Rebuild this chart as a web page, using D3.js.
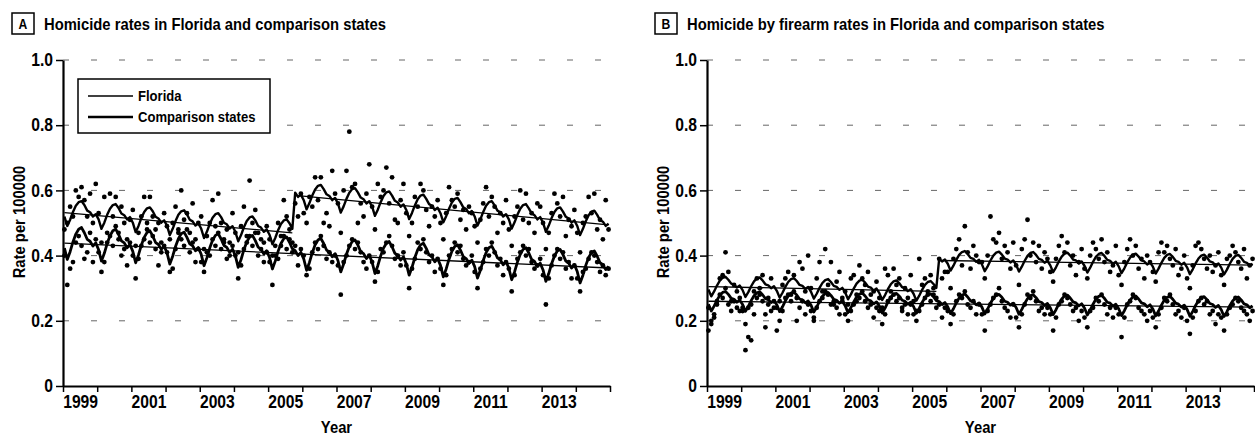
<!DOCTYPE html>
<html>
<head>
<meta charset="utf-8">
<script src="https://cdn.jsdelivr.net/npm/d3@7"></script>
<style>
  body { margin: 0; background: #fff; }
  svg text { font-family: "Liberation Sans", Arial, sans-serif; font-weight: bold; fill: #000; }
</style>
</head>
<body>
<svg id="chart" width="1255" height="436"></svg>
<script>
// ---- data (monthly, Jan..Dec, one row per year) ----
const years = d3.range(1999, 2015);
const tickYears = d3.range(1999, 2016);
const labelYears = [1999, 2001, 2003, 2005, 2007, 2009, 2011, 2013];
const yTicks = [0, 0.2, 0.4, 0.6, 0.8, 1.0];
const seriesNames = ["Florida", "Comparison states"];
const titleA = "Homicide rates in Florida and comparison states";
const titleB = "Homicide by firearm rates in Florida and comparison states";

// A: homicide, Florida observed
const flPointsA = [
  [.48,.50,.55,.52,.60,.58,.61,.57,.52,.59,.50,.62],
  [.53,.44,.58,.47,.59,.52,.58,.47,.55,.50,.45,.51],
  [.54,.43,.47,.52,.58,.50,.58,.52,.48,.50,.44,.53],
  [.49,.45,.50,.55,.48,.60,.51,.53,.47,.56,.45,.50],
  [.52,.42,.46,.50,.57,.49,.59,.50,.45,.48,.44,.53],
  [.47,.41,.49,.55,.46,.63,.50,.54,.47,.45,.44,.49],
  [.45,.40,.43,.50,.46,.57,.52,.48,.44,.56,.52,.59],
  [.53,.50,.58,.55,.64,.57,.64,.50,.53,.49,.66,.59],
  [.56,.47,.60,.66,.78,.61,.62,.50,.56,.52,.59,.68],
  [.55,.48,.62,.58,.60,.67,.56,.64,.51,.50,.57,.62],
  [.53,.46,.50,.58,.55,.62,.60,.54,.49,.55,.52,.57],
  [.50,.45,.53,.61,.57,.55,.59,.51,.54,.48,.55,.53],
  [.49,.44,.51,.56,.61,.52,.58,.55,.47,.53,.50,.57],
  [.48,.43,.52,.55,.60,.51,.59,.50,.53,.47,.56,.55],
  [.50,.42,.47,.53,.59,.56,.52,.58,.46,.51,.49,.54],
  [.47,.41,.50,.52,.58,.53,.59,.48,.51,.45,.57,.48]
];
// A: homicide, comparison states observed
const cmpPointsA = [
  [.40,.31,.36,.38,.44,.46,.43,.39,.41,.47,.38,.45],
  [.41,.35,.38,.44,.46,.43,.49,.45,.40,.42,.37,.44],
  [.40,.33,.39,.43,.45,.48,.44,.46,.42,.37,.41,.43],
  [.41,.35,.36,.42,.47,.45,.43,.48,.41,.44,.38,.42],
  [.38,.35,.41,.40,.45,.43,.47,.42,.44,.39,.40,.43],
  [.40,.33,.37,.42,.44,.46,.43,.47,.40,.42,.38,.41],
  [.38,.31,.40,.39,.43,.46,.42,.45,.41,.43,.37,.42],
  [.40,.34,.36,.41,.44,.42,.46,.43,.39,.41,.38,.40],
  [.37,.28,.38,.40,.43,.45,.42,.44,.41,.38,.36,.40],
  [.38,.32,.35,.42,.41,.44,.46,.43,.39,.40,.37,.41],
  [.37,.30,.36,.39,.44,.42,.45,.41,.38,.40,.35,.39],
  [.36,.31,.34,.40,.42,.44,.41,.43,.39,.37,.38,.40],
  [.35,.30,.36,.38,.42,.40,.44,.41,.37,.39,.34,.38],
  [.36,.29,.34,.39,.41,.43,.40,.42,.38,.36,.37,.39],
  [.34,.25,.33,.37,.40,.42,.39,.41,.36,.38,.33,.37],
  [.33,.29,.35,.36,.39,.41,.40,.38,.35,.37,.34,.36]
];
// A: seasonal model fit
const flFitA = [
  [.520,.491,.510,.534,.553,.564,.567,.555,.538,.533,.520,.527],
  [.511,.482,.501,.525,.544,.555,.558,.546,.529,.524,.511,.518],
  [.501,.472,.491,.515,.534,.545,.548,.536,.519,.514,.501,.508],
  [.492,.463,.482,.506,.525,.536,.539,.527,.510,.505,.492,.499],
  [.483,.454,.473,.497,.516,.527,.530,.518,.501,.496,.483,.490],
  [.473,.444,.463,.487,.506,.517,.520,.508,.491,.486,.473,.480],
  [.464,.435,.454,.478,.497,.508,.511,.499,.482,.593,.580,.587],
  [.570,.542,.561,.584,.603,.614,.617,.604,.588,.583,.570,.577],
  [.560,.532,.551,.574,.593,.604,.607,.594,.578,.573,.560,.567],
  [.550,.522,.541,.564,.583,.594,.597,.584,.568,.563,.550,.557],
  [.540,.512,.531,.554,.573,.584,.587,.574,.558,.553,.540,.547],
  [.530,.502,.521,.544,.563,.574,.577,.564,.548,.543,.530,.537],
  [.520,.492,.511,.534,.553,.564,.567,.554,.538,.533,.520,.527],
  [.511,.483,.502,.525,.544,.555,.558,.545,.529,.524,.511,.518],
  [.501,.473,.492,.515,.534,.545,.548,.535,.519,.514,.501,.508],
  [.491,.463,.482,.505,.524,.535,.538,.525,.509,.504,.491,.498]
];
const cmpFitA = [
  [.423,.388,.412,.442,.466,.481,.486,.470,.450,.444,.429,.439],
  [.418,.383,.407,.437,.461,.476,.481,.465,.445,.439,.424,.434],
  [.413,.378,.402,.432,.456,.471,.476,.460,.440,.434,.419,.429],
  [.409,.374,.398,.428,.452,.467,.472,.456,.436,.430,.415,.425],
  [.404,.369,.393,.423,.447,.462,.467,.451,.431,.425,.410,.420],
  [.399,.364,.388,.418,.442,.457,.462,.446,.426,.420,.405,.415],
  [.394,.359,.383,.413,.437,.452,.457,.441,.421,.415,.400,.410],
  [.390,.355,.379,.409,.433,.448,.453,.437,.417,.411,.396,.406],
  [.385,.350,.374,.404,.428,.443,.448,.432,.412,.406,.391,.401],
  [.380,.345,.369,.399,.423,.438,.443,.427,.407,.401,.386,.396],
  [.375,.340,.364,.394,.418,.433,.438,.422,.402,.396,.381,.391],
  [.370,.335,.359,.389,.413,.428,.433,.417,.397,.391,.376,.386],
  [.366,.331,.355,.385,.409,.424,.429,.413,.393,.387,.372,.382],
  [.361,.326,.350,.380,.404,.419,.424,.408,.388,.382,.367,.377],
  [.356,.321,.345,.375,.399,.414,.419,.403,.383,.377,.362,.372],
  [.351,.316,.340,.370,.394,.409,.414,.398,.378,.372,.357,.367]
];
// A: straight trend lines [from month, value, to month, value]
const flTrendA = [["1999-01", .532, "2005-09", .470], ["2005-10", .585, "2014-12", .494]];
const cmpTrendA = [["1999-01", .438, "2014-12", .362]];

// B: homicide by firearm, observed
const flPointsB = [
  [.17,.19,.21,.25,.33,.34,.41,.35,.26,.31,.29,.23],
  [.24,.11,.15,.14,.22,.33,.30,.34,.18,.27,.33,.24],
  [.17,.26,.31,.33,.35,.28,.34,.20,.38,.36,.29,.40],
  [.30,.21,.33,.38,.29,.42,.31,.38,.25,.32,.35,.27],
  [.29,.25,.33,.34,.26,.37,.33,.31,.35,.28,.29,.32],
  [.27,.24,.36,.34,.29,.36,.31,.33,.24,.30,.27,.34],
  [.26,.23,.39,.31,.33,.28,.34,.30,.27,.39,.33,.35],
  [.35,.30,.39,.42,.45,.37,.49,.41,.36,.43,.40,.38],
  [.38,.33,.40,.52,.45,.44,.47,.39,.43,.41,.36,.44],
  [.37,.31,.42,.45,.51,.40,.44,.38,.43,.36,.41,.39],
  [.35,.32,.39,.43,.46,.41,.44,.37,.40,.34,.38,.42],
  [.36,.33,.40,.44,.42,.39,.45,.38,.41,.35,.37,.43],
  [.34,.31,.38,.42,.45,.40,.43,.36,.39,.33,.40,.38],
  [.35,.32,.41,.44,.41,.43,.39,.37,.42,.34,.36,.40],
  [.33,.30,.37,.43,.44,.42,.39,.36,.40,.35,.37,.41],
  [.34,.31,.39,.40,.43,.41,.38,.36,.42,.33,.37,.39]
];
const cmpPointsB = [
  [.24,.20,.22,.26,.28,.27,.30,.25,.23,.26,.24,.27],
  [.23,.19,.24,.25,.29,.27,.28,.26,.22,.25,.23,.26],
  [.24,.20,.23,.27,.28,.26,.29,.27,.24,.26,.22,.25],
  [.23,.20,.24,.26,.27,.29,.28,.25,.26,.24,.22,.26],
  [.22,.20,.23,.25,.28,.27,.29,.26,.24,.25,.21,.24],
  [.23,.19,.22,.26,.27,.28,.26,.27,.23,.25,.22,.25],
  [.22,.20,.23,.25,.27,.29,.26,.28,.24,.25,.21,.24],
  [.23,.19,.22,.26,.28,.27,.29,.25,.24,.26,.22,.25],
  [.22,.17,.23,.25,.27,.28,.30,.26,.24,.23,.21,.25],
  [.21,.18,.22,.25,.28,.27,.29,.26,.23,.24,.22,.24],
  [.22,.17,.21,.25,.26,.28,.27,.25,.23,.24,.20,.23],
  [.21,.18,.23,.24,.27,.26,.28,.25,.22,.24,.21,.24],
  [.22,.15,.21,.25,.26,.28,.27,.24,.23,.22,.20,.23],
  [.21,.18,.22,.24,.27,.26,.28,.25,.22,.23,.21,.24],
  [.20,.16,.21,.23,.26,.27,.25,.26,.22,.23,.19,.22],
  [.21,.17,.22,.24,.25,.27,.26,.24,.23,.22,.20,.23]
];
const flFitB = [
  [.296,.275,.290,.308,.323,.332,.335,.326,.314,.311,.302,.308],
  [.294,.273,.288,.306,.321,.330,.333,.324,.312,.309,.300,.306],
  [.292,.271,.286,.304,.319,.328,.331,.322,.310,.307,.298,.304],
  [.289,.268,.283,.301,.316,.325,.328,.319,.307,.304,.295,.301],
  [.287,.266,.281,.299,.314,.323,.326,.317,.305,.302,.293,.299],
  [.285,.264,.279,.297,.312,.321,.324,.315,.303,.300,.291,.297],
  [.283,.262,.277,.295,.310,.319,.322,.313,.301,.391,.382,.388],
  [.375,.354,.369,.387,.402,.411,.414,.405,.393,.390,.381,.387],
  [.373,.352,.367,.385,.400,.409,.412,.403,.391,.388,.379,.385],
  [.372,.351,.366,.384,.399,.408,.411,.402,.390,.387,.378,.384],
  [.370,.349,.364,.382,.397,.406,.409,.400,.388,.385,.376,.382],
  [.369,.348,.363,.381,.396,.405,.408,.399,.387,.384,.375,.381],
  [.367,.346,.361,.379,.394,.403,.406,.397,.385,.382,.373,.379],
  [.366,.345,.360,.378,.393,.402,.405,.396,.384,.381,.372,.378],
  [.364,.343,.358,.376,.391,.400,.403,.394,.382,.379,.370,.376],
  [.363,.342,.357,.375,.390,.399,.402,.393,.381,.378,.369,.375]
];
const cmpFitB = [
  [.251,.230,.245,.263,.278,.287,.290,.281,.269,.266,.257,.263],
  [.250,.229,.244,.262,.277,.286,.289,.280,.268,.265,.256,.262],
  [.249,.228,.243,.261,.276,.285,.288,.279,.267,.264,.255,.261],
  [.248,.227,.242,.260,.275,.284,.287,.278,.266,.263,.254,.260],
  [.246,.225,.240,.258,.273,.282,.285,.276,.264,.261,.252,.258],
  [.245,.224,.239,.257,.272,.281,.284,.275,.263,.260,.251,.257],
  [.244,.223,.238,.256,.271,.280,.283,.274,.262,.259,.250,.256],
  [.243,.222,.237,.255,.270,.279,.282,.273,.261,.258,.249,.255],
  [.242,.221,.236,.254,.269,.278,.281,.272,.260,.257,.248,.254],
  [.241,.220,.235,.253,.268,.277,.280,.271,.259,.256,.247,.253],
  [.240,.219,.234,.252,.267,.276,.279,.270,.258,.255,.246,.252],
  [.239,.218,.233,.251,.266,.275,.278,.269,.257,.254,.245,.251],
  [.237,.216,.231,.249,.264,.273,.276,.267,.255,.252,.243,.249],
  [.236,.215,.230,.248,.263,.272,.275,.266,.254,.251,.242,.248],
  [.235,.214,.229,.247,.262,.271,.274,.265,.253,.250,.241,.247],
  [.234,.213,.228,.246,.261,.270,.273,.264,.252,.249,.240,.246]
];
const flTrendB = [["1999-01", .305, "2005-09", .290], ["2005-10", .385, "2014-12", .371]];
const cmpTrendB = [["1999-01", .260, "2014-12", .242]];

// ---- helpers ----
const svg = d3.select("#chart");
const y = d3.scaleLinear().domain([0, 1]).range([386, 60]);

// monthly rows -> [{t, v}], t in decimal years at mid-month
function monthly(rows) {
  const out = [];
  rows.forEach((row, yi) => row.forEach((v, m) => out.push({ t: years[yi] + (m + 0.5) / 12, v: v })));
  return out;
}
function monthToT(s) {
  const p = s.split("-");
  return +p[0] + (+p[1] - 0.5) / 12;
}

function drawPanel(opt) {
  const x = d3.scaleLinear().domain([1999, 2015]).range([opt.x0, opt.x1]);
  const g = svg.append("g");

  // panel letter box + title
  g.append("rect")
    .attr("x", opt.boxX).attr("y", 13).attr("width", 22).attr("height", 21)
    .attr("fill", "none").attr("stroke", "#000").attr("stroke-width", 1.5);
  g.append("text")
    .attr("x", opt.boxX + 11).attr("y", 29)
    .attr("text-anchor", "middle").style("font-size", "14px")
    .text(opt.letter);
  g.append("text")
    .attr("x", opt.boxX + 32).attr("y", 30)
    .style("font-size", "17px")
    .text(opt.title);

  // faint dashed grid
  g.selectAll(".grid")
    .data(yTicks.filter((d) => d > 0))
    .enter()
    .append("line")
    .attr("x1", opt.x0).attr("x2", opt.x1)
    .attr("y1", (d) => y(d)).attr("y2", (d) => y(d))
    .attr("stroke", "#666").attr("stroke-width", 1)
    .attr("stroke-dasharray", "6 22");

  // axes
  const yAxis = g.append("g")
    .attr("transform", `translate(${opt.x0},0)`)
    .call(d3.axisLeft(y).tickValues(yTicks).tickSize(7).tickSizeOuter(0).tickPadding(3)
      .tickFormat((d) => (d === 0 ? "0" : d3.format(".1f")(d))));
  yAxis.selectAll("text").style("font-size", "18px");

  const xAxis = g.append("g")
    .attr("transform", `translate(0,${y(0)})`)
    .call(d3.axisBottom(x).tickValues(tickYears).tickSize(6).tickSizeOuter(0).tickFormat(""));
  const xLabels = g.append("g")
    .attr("transform", `translate(0,${y(0)})`)
    .call(d3.axisBottom(x).tickValues(labelYears.map((d) => d + 0.5)).tickSize(0).tickPadding(9)
      .tickFormat((d) => Math.floor(d)));
  xLabels.select(".domain").remove();
  xLabels.selectAll("text").style("font-size", "18px");

  [yAxis, xAxis].forEach((a) => {
    a.select(".domain").attr("stroke-width", 2.2);
    a.selectAll(".tick line").attr("stroke-width", 1.5);
  });

  g.append("text")
    .attr("transform", `translate(${opt.x0 - 38},222) rotate(-90)`)
    .attr("text-anchor", "middle").style("font-size", "17px")
    .text("Rate per 100000");
  g.append("text")
    .attr("x", (opt.x0 + opt.x1) / 2).attr("y", 433)
    .attr("text-anchor", "middle").style("font-size", "17px")
    .text("Year");

  // observed points
  const pts = monthly(opt.flPoints).concat(monthly(opt.cmpPoints));
  g.selectAll(".pt")
    .data(pts)
    .enter()
    .append("circle")
    .attr("cx", (d) => x(d.t)).attr("cy", (d) => y(d.v))
    .attr("r", 2.4).attr("fill", "#000");

  // trend lines
  const trends = opt.flTrend.concat(opt.cmpTrend);
  g.selectAll(".trend")
    .data(trends)
    .enter()
    .append("line")
    .attr("x1", (d) => x(monthToT(d[0]))).attr("y1", (d) => y(d[1]))
    .attr("x2", (d) => x(monthToT(d[2]))).attr("y2", (d) => y(d[3]))
    .attr("stroke", "#000").attr("stroke-width", 1.3);

  // seasonal fits
  const line = d3.line().x((d) => x(d.t)).y((d) => y(d.v));
  g.append("path").datum(monthly(opt.flFit))
    .attr("d", line).attr("fill", "none").attr("stroke", "#000").attr("stroke-width", 2.4)
    .attr("stroke-linejoin", "round");
  g.append("path").datum(monthly(opt.cmpFit))
    .attr("d", line).attr("fill", "none").attr("stroke", "#000").attr("stroke-width", 2.8)
    .attr("stroke-linejoin", "round");

  return g;
}

const gA = drawPanel({
  letter: "A", title: titleA, boxX: 12, x0: 63, x1: 610,
  flPoints: flPointsA, cmpPoints: cmpPointsA, flFit: flFitA, cmpFit: cmpFitA,
  flTrend: flTrendA, cmpTrend: cmpTrendA
});
drawPanel({
  letter: "B", title: titleB, boxX: 655, x0: 707, x1: 1254,
  flPoints: flPointsB, cmpPoints: cmpPointsB, flFit: flFitB, cmpFit: cmpFitB,
  flTrend: flTrendB, cmpTrend: cmpTrendB
});

// legend (panel A)
const legend = gA.append("g").attr("transform", "translate(78,79)");
legend.append("rect")
  .attr("width", 192).attr("height", 54)
  .attr("fill", "#fff").attr("stroke", "#000").attr("stroke-width", 1.5);
legend.selectAll(".lg-line")
  .data(seriesNames)
  .enter()
  .append("line")
  .attr("x1", 10).attr("x2", 55)
  .attr("y1", (d, i) => 17 + i * 21).attr("y2", (d, i) => 17 + i * 21)
  .attr("stroke", "#000").attr("stroke-width", (d, i) => (i === 0 ? 1.4 : 2.4));
legend.selectAll(".lg-text")
  .data(seriesNames)
  .enter()
  .append("text")
  .attr("x", 60).attr("y", (d, i) => 22 + i * 21)
  .style("font-size", "15px")
  .text((d) => d);

// the source uses a condensed face: squeeze every label horizontally
svg.selectAll("text").each(function () {
  const w = this.getComputedTextLength();
  if (w > 0) d3.select(this).attr("textLength", w * 0.87).attr("lengthAdjust", "spacingAndGlyphs");
});
</script>
</body>
</html>
